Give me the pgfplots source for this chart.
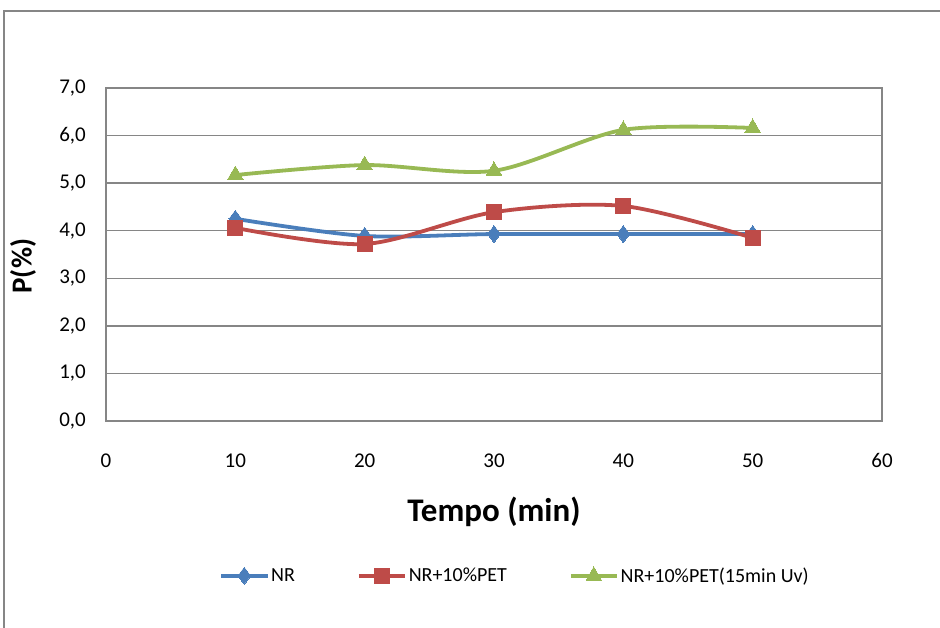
\documentclass[border=0pt]{standalone}
\usepackage{pgfplots}
\pgfplotsset{compat=1.18}
\usepackage{fontspec}
\setmainfont{Carlito}
\definecolor{cblue}{HTML}{4A7EBB}
\definecolor{cred}{HTML}{BE4B48}
\definecolor{cgreen}{HTML}{98B954}
\definecolor{cgrid}{HTML}{868686}
\begin{document}
\begin{tikzpicture}
\useasboundingbox (0pt,0pt) rectangle (940pt,628pt);
\draw[cgrid, line width=1.5pt] (4pt,0pt) -- (4pt,617pt) -- (940pt,617pt);
\begin{axis}[
  at={(106pt,207pt)}, anchor=south west,
  width=776pt, height=333pt, scale only axis,
  xmin=0, xmax=60, ymin=0, ymax=7,
  xtick={0,10,...,60}, ytick={0,1,...,7},
  major tick length=0pt,
  axis line style={cgrid, line width=1.3pt},
  ymajorgrids, grid style={cgrid, line width=1.3pt},
  /pgf/number format/assume math mode=true,
  ticklabel style={font=\fontsize{21}{24}\selectfont},
  xticklabel style={anchor=base, yshift=-47pt},
  yticklabel style={anchor=east, inner sep=0pt, xshift=-20pt,
    /pgf/number format/.cd, fixed, fixed zerofill, precision=1, use comma},
  xlabel={Tempo (min)},
  xlabel style={at={(axis description cs:0.5,-0.273)}, anchor=center, font=\fontsize{33}{36}\selectfont\bfseries},
  ylabel={P(\%)},
  ylabel style={at={(axis description cs:-0.107,0.465)}, anchor=center, rotate=0, font=\fontsize{29}{32}\selectfont\bfseries},
  legend columns=3,
  legend style={at={(axis description cs:0.142,-0.465)}, anchor=west, draw=none, fill=none,
    font=\fontsize{20}{22}\selectfont, /tikz/every even column/.append style={column sep=60pt}},
  legend image code/.code={\draw[#1, mark repeat=2, mark phase=2] plot coordinates {(0pt,0pt) (23pt,0pt) (46pt,0pt)};},
  every axis plot/.append style={line width=3.8pt, smooth, tension=0.5},
]
\addplot[cblue, mark=diamond*, mark size=8.5pt, mark options={solid, line width=0pt, fill=cblue}] coordinates {(10,4.25) (20,3.89) (30,3.93) (40,3.93) (50,3.93)};
\addlegendentry{NR}
\addplot[cred, mark=square*, mark size=7.5pt, mark options={solid, line width=0pt, fill=cred}] coordinates {(10,4.06) (20,3.72) (30,4.39) (40,4.52) (50,3.85)};
\addlegendentry{NR+10\%PET}
\addplot[cgreen, mark=triangle*, mark size=9pt, mark options={solid, line width=0pt, fill=cgreen}] coordinates {(10,5.17) (20,5.38) (30,5.26) (40,6.12) (50,6.16)};
\addlegendentry{NR+10\%PET(15min Uv)}
\end{axis}
\end{tikzpicture}
\end{document}
